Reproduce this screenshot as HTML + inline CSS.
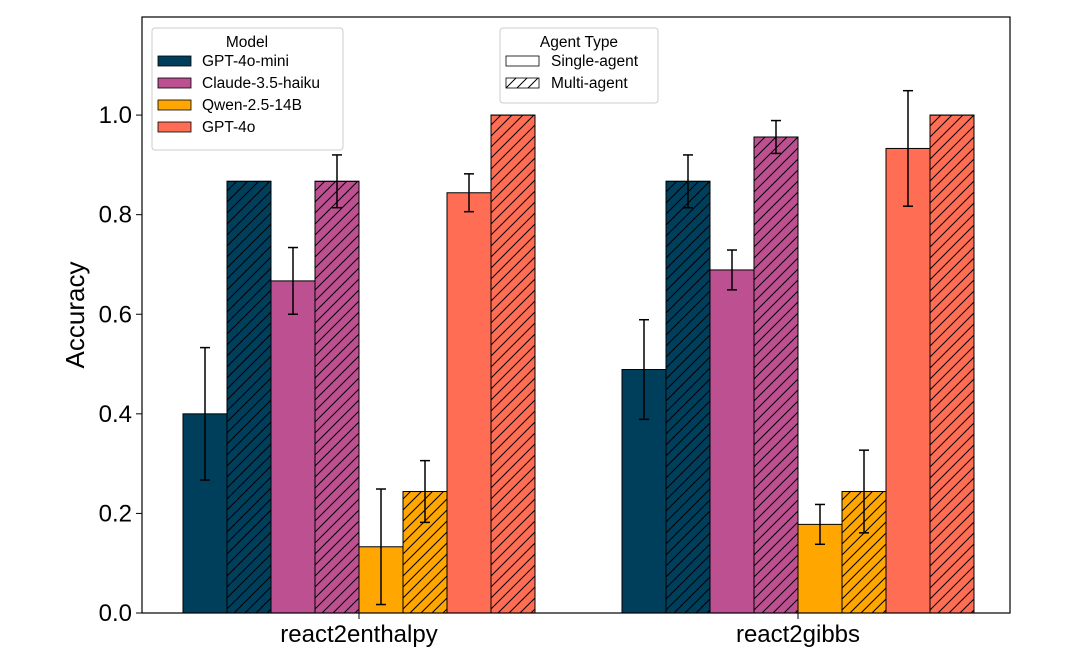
<!DOCTYPE html>
<html><head><meta charset="utf-8"><style>
body{margin:0;background:#fff;}
svg text{font-family:"Liberation Sans","DejaVu Sans",sans-serif;}
</style></head><body>
<svg id="c" width="1065" height="656" xmlns="http://www.w3.org/2000/svg">
<defs>
<pattern id="hatch" patternUnits="userSpaceOnUse" width="11" height="11" patternTransform="rotate(0)">
<path d="M-3,3 l6,-6 M0,11 l11,-11 M8,14 l6,-6" stroke="#000" stroke-width="1"/>
</pattern>
</defs>
<g id="plot"></g>
</svg>
<script>
const categories = ["react2enthalpy","react2gibbs"];
const models = ["GPT-4o-mini","Claude-3.5-haiku","Qwen-2.5-14B","GPT-4o"];
const colors = ["#003f5c","#bc5090","#ffa600","#ff6e54"];
const singleVals = [[0.400,0.667,0.133,0.844],[0.489,0.689,0.178,0.933]];
const singleErr  = [[0.133,0.067,0.116,0.038],[0.100,0.040,0.040,0.116]];
const multiVals  = [[0.867,0.867,0.244,1.000],[0.867,0.956,0.244,1.000]];
const multiErr   = [[0.000,0.053,0.062,0.000],[0.053,0.033,0.083,0.000]];
const yTicks = [0.0,0.2,0.4,0.6,0.8,1.0];

const NS="http://www.w3.org/2000/svg";
const g=document.getElementById('plot');
const L=142,R=1010,T=17,B=613,ymax=1.197;
const y=v=>B-(v/ymax)*(B-T);
const centers=[359,798], bw=44;
function el(t,a,p){const e=document.createElementNS(NS,t);for(const k in a)e.setAttribute(k,a[k]);(p||g).appendChild(e);return e;}

categories.forEach((c,ci)=>{
  models.forEach((m,mi)=>{
    [[singleVals,singleErr,false],[multiVals,multiErr,true]].forEach(([vals,errs,h],k)=>{
      const v=vals[ci][mi], e=errs[ci][mi];
      const x=centers[ci]-4*bw+(mi*2+k)*bw;
      const r=el('rect',{x:x,y:y(v),width:bw,height:B-y(v),fill:colors[mi],stroke:'#000','stroke-width':1});
      
      
      if(h){const r2=el('rect',{x:x,y:y(v),width:bw,height:B-y(v),fill:'url(#hatch)',stroke:'#000','stroke-width':1});
        
        }
      if(e>0){const cx=x+bw/2;
        const eg=el('g',{stroke:'#000','stroke-width':1.5});
        
        
        el('line',{x1:cx,x2:cx,y1:y(v-e),y2:y(v+e)},eg);
        el('line',{x1:cx-5,x2:cx+5,y1:y(v-e),y2:y(v-e)},eg);
        el('line',{x1:cx-5,x2:cx+5,y1:y(v+e),y2:y(v+e)},eg);}
    });
  });
  const t=el('text',{x:centers[ci],y:642,'font-size':24,'text-anchor':'middle'});
  t.textContent=c;
  
  
  el('line',{x1:centers[ci],x2:centers[ci],y1:B,y2:B+6,stroke:'#000'});
});
const f=el('rect',{x:L,y:T,width:R-L,height:B-T,fill:'none',stroke:'#000','stroke-width':1.2});


yTicks.forEach(v=>{
  el('line',{x1:L-6,x2:L,y1:y(v),y2:y(v),stroke:'#000'});
  const t=el('text',{x:L-10,y:y(v)+8,'font-size':24,'text-anchor':'end'});
  t.textContent=v.toFixed(1);
  
  
});
const yt=el('text',{x:84,y:315,'font-size':26,'text-anchor':'middle',transform:'rotate(-90 84 315)'});
yt.textContent='Accuracy';



const lg=el('g',{});


el('rect',{x:152,y:28,width:191,height:122,rx:3,fill:'#fff','fill-opacity':0.85,stroke:'#ccc'},lg);
let tt=el('text',{x:247,y:47,'font-size':15.5,'text-anchor':'middle'},lg);tt.textContent='Model';
models.forEach((m,i)=>{const yy=60+i*22;
  el('rect',{x:158,y:yy-4,width:33,height:10,fill:colors[i],stroke:'#000','stroke-width':0.8},lg);
  const t=el('text',{x:202,y:yy+6,'font-size':15.5},lg);t.textContent=m;
  
  });
const lg2=el('g',{});


el('rect',{x:500,y:28,width:158,height:75,rx:3,fill:'#fff','fill-opacity':0.85,stroke:'#ccc'},lg2);
tt=el('text',{x:579,y:47,'font-size':15.5,'text-anchor':'middle'},lg2);tt.textContent='Agent Type';
['Single-agent','Multi-agent'].forEach((m,i)=>{const yy=60+i*22;
  el('rect',{x:506,y:yy-4,width:33,height:10,fill:i?'url(#hatch)':'#fff',stroke:'#000','stroke-width':0.8},lg2);
  const t=el('text',{x:551,y:yy+6,'font-size':15.5},lg2);t.textContent=m;
  
  });
</script>
</body></html>
